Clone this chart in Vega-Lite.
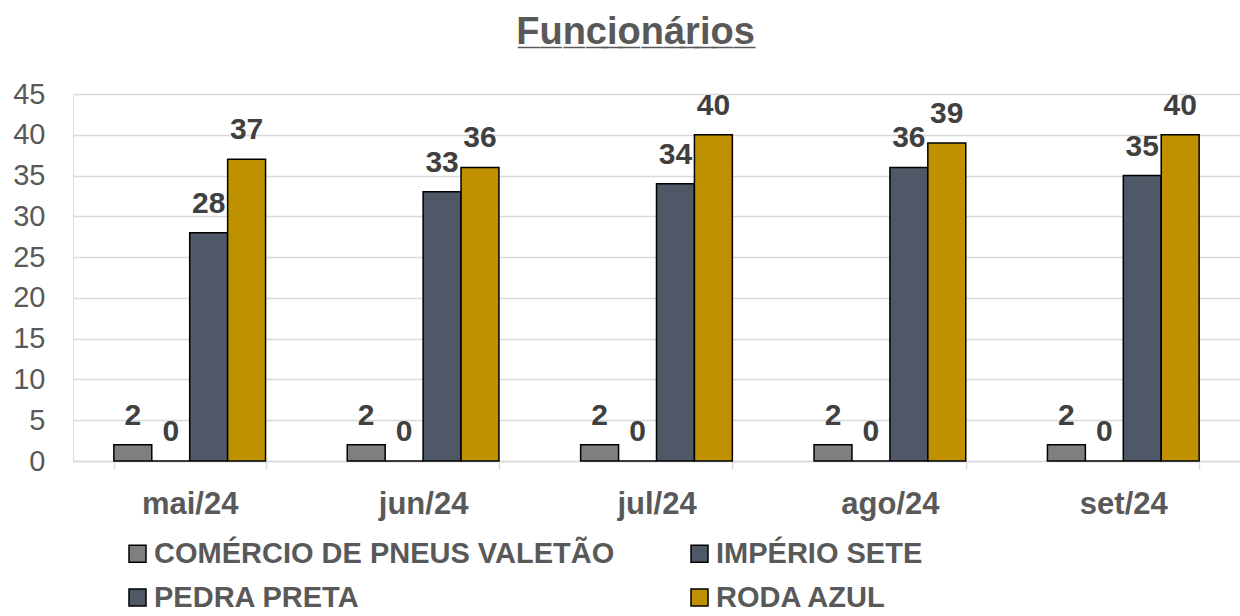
{
  "$schema": "https://vega.github.io/schema/vega-lite/v6.json",
  "width": 1167,
  "height": 367,
  "autosize": {"type": "none"},
  "padding": {"left": 73, "top": 94, "right": 0, "bottom": 155},
  "background": "white",
  "title": {
    "text": "F̲u̲n̲c̲i̲o̲n̲á̲r̲i̲o̲s̲",
    "font": "Liberation Sans",
    "fontSize": 38,
    "fontWeight": "bold",
    "color": "#595959",
    "anchor": "middle",
    "frame": "group",
    "offset": 28,
    "dx": -21
  },
  "data": {
    "values": [
      {"mes": "mai/24", "serie": "COMÉRCIO DE PNEUS VALETÃO", "valor": 2},
      {"mes": "mai/24", "serie": "IMPÉRIO SETE", "valor": 0},
      {"mes": "mai/24", "serie": "PEDRA PRETA", "valor": 28},
      {"mes": "mai/24", "serie": "RODA AZUL", "valor": 37},
      {"mes": "jun/24", "serie": "COMÉRCIO DE PNEUS VALETÃO", "valor": 2},
      {"mes": "jun/24", "serie": "IMPÉRIO SETE", "valor": 0},
      {"mes": "jun/24", "serie": "PEDRA PRETA", "valor": 33},
      {"mes": "jun/24", "serie": "RODA AZUL", "valor": 36},
      {"mes": "jul/24", "serie": "COMÉRCIO DE PNEUS VALETÃO", "valor": 2},
      {"mes": "jul/24", "serie": "IMPÉRIO SETE", "valor": 0},
      {"mes": "jul/24", "serie": "PEDRA PRETA", "valor": 34},
      {"mes": "jul/24", "serie": "RODA AZUL", "valor": 40},
      {"mes": "ago/24", "serie": "COMÉRCIO DE PNEUS VALETÃO", "valor": 2},
      {"mes": "ago/24", "serie": "IMPÉRIO SETE", "valor": 0},
      {"mes": "ago/24", "serie": "PEDRA PRETA", "valor": 36},
      {"mes": "ago/24", "serie": "RODA AZUL", "valor": 39},
      {"mes": "set/24", "serie": "COMÉRCIO DE PNEUS VALETÃO", "valor": 2},
      {"mes": "set/24", "serie": "IMPÉRIO SETE", "valor": 0},
      {"mes": "set/24", "serie": "PEDRA PRETA", "valor": 35},
      {"mes": "set/24", "serie": "RODA AZUL", "valor": 40}
    ]
  },
  "encoding": {
    "x": {
      "field": "mes",
      "type": "nominal",
      "sort": ["mai/24", "jun/24", "jul/24", "ago/24", "set/24"],
      "scale": {"paddingInner": 0.35, "paddingOuter": 0.175},
      "axis": {
        "title": null,
        "labelAngle": 0,
        "labelFont": "Liberation Sans",
        "labelFontSize": 31,
        "labelFontWeight": "bold",
        "labelColor": "#595959",
        "labelPadding": 20,
        "domainColor": "#d9d9d9",
        "domainWidth": 1.5,
        "tickColor": "#d9d9d9",
        "tickWidth": 1.5,
        "tickSize": 8,
        "tickBand": "extent",
        "grid": false
      }
    },
    "xOffset": {
      "field": "serie",
      "type": "nominal",
      "sort": ["COMÉRCIO DE PNEUS VALETÃO", "IMPÉRIO SETE", "PEDRA PRETA", "RODA AZUL"],
      "scale": {"paddingInner": 0, "paddingOuter": 0}
    },
    "y": {
      "field": "valor",
      "type": "quantitative",
      "scale": {"domain": [0, 45], "nice": false},
      "axis": {
        "title": null,
        "values": [0, 5, 10, 15, 20, 25, 30, 35, 40, 45],
        "labelFont": "Liberation Sans",
        "labelFontSize": 29,
        "labelColor": "#595959",
        "labelPadding": 28,
        "tickSize": 0,
        "domain": false,
        "gridColor": "#d9d9d9",
        "gridWidth": 1.5
      }
    }
  },
  "layer": [
    {
      "mark": {"type": "bar", "stroke": "black", "strokeWidth": 1.5},
      "encoding": {
        "color": {
          "field": "serie",
          "type": "nominal",
          "scale": {
            "domain": ["COMÉRCIO DE PNEUS VALETÃO", "IMPÉRIO SETE", "PEDRA PRETA", "RODA AZUL"],
            "range": ["#7f7f7f", "#4f5866", "#4f5866", "#bf9000"]
          },
          "legend": {
            "title": null,
            "orient": "none",
            "legendX": 50,
            "legendY": 445,
            "direction": "horizontal",
            "columns": 2,
            "columnPadding": 70,
            "rowPadding": 14,
            "symbolType": "square",
            "symbolSize": 289,
            "symbolStrokeColor": "black",
            "symbolStrokeWidth": 1.5,
            "labelFont": "Liberation Sans",
            "labelFontSize": 29,
            "labelFontWeight": "bold",
            "labelColor": "#595959",
            "labelOffset": 2,
            "labelLimit": 0
          }
        }
      }
    },
    {
      "mark": {
        "type": "text",
        "font": "Liberation Sans",
        "fontSize": 30,
        "fontWeight": "bold",
        "color": "#404040",
        "baseline": "alphabetic",
        "dy": -20
      },
      "encoding": {
        "text": {"field": "valor", "type": "quantitative"}
      }
    }
  ]
}
